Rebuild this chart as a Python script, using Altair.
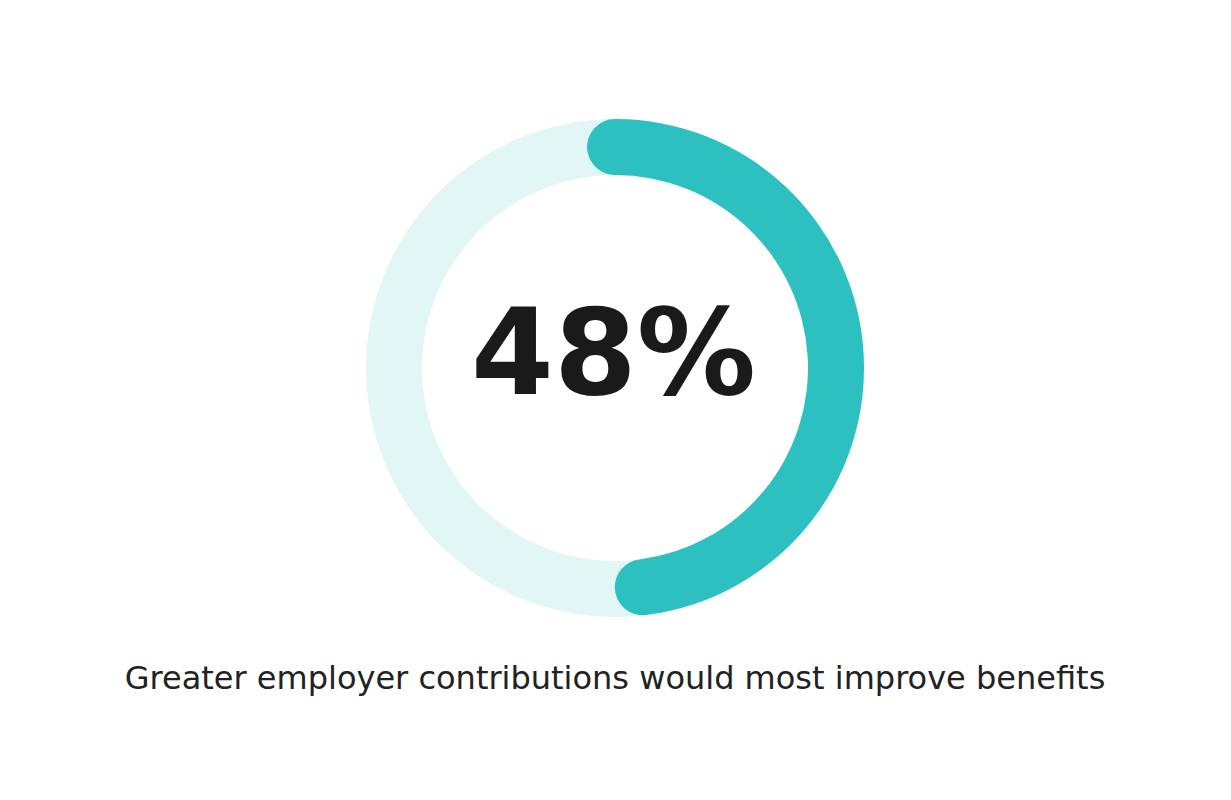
import math
import altair as alt
import pandas as pd

# Data
value = 48
big_label = "48%"
caption = "Greater employer contributions would most improve benefits"

# Cap extension (in percent units) so the rounded end sits beyond the value
ring_outer = 249
ring_inner = 193
cap_r = (ring_outer - ring_inner) / 2
mid_r = (ring_outer + ring_inner) / 2
cap_pct = (cap_r / mid_r) / (2 * math.pi) * 100

arcs = pd.DataFrame({
    "part": ["track", "value"],
    "start": [0, 0 - cap_pct],
    "end": [100, value + cap_pct],
})

cx, cy = 607, 360

theta_scale = alt.Scale(domain=[0, 100], range=[0, 2 * math.pi])

track = alt.Chart(arcs).transform_filter(alt.datum.part == "track").mark_arc(
    radius=ring_outer, radius2=ring_inner, color="#e3f6f6"
).encode(
    theta=alt.Theta("start:Q", scale=theta_scale, stack=None),
    theta2="end:Q",
    x=alt.value(cx), y=alt.value(cy),
)

prog = alt.Chart(arcs).transform_filter(alt.datum.part == "value").mark_arc(
    radius=ring_outer, radius2=ring_inner, color="#2cc0c0", cornerRadius=cap_r
).encode(
    theta=alt.Theta("start:Q", scale=theta_scale, stack=None),
    theta2="end:Q",
    x=alt.value(cx), y=alt.value(cy),
)

texts = pd.DataFrame({"big": [big_label], "cap": [caption]})

big = alt.Chart(texts).mark_text(
    font="DejaVu Sans", fontWeight="bold", fontSize=119, color="#1a1a1a",
    align="center", baseline="alphabetic"
).encode(text="big:N", x=alt.value(605.5), y=alt.value(386))

cap = alt.Chart(texts).mark_text(
    font="DejaVu Sans", fontSize=32, color="#222222",
    align="center", baseline="alphabetic"
).encode(text="cap:N", x=alt.value(cx), y=alt.value(681))

chart = alt.layer(track, prog, big, cap).properties(
    width=1215, height=780, padding=0,
    autosize=alt.AutoSizeParams(type="none"),
).configure_view(stroke=None)

chart.save("out.html", embed_options={"renderer": "svg", "actions": False})
